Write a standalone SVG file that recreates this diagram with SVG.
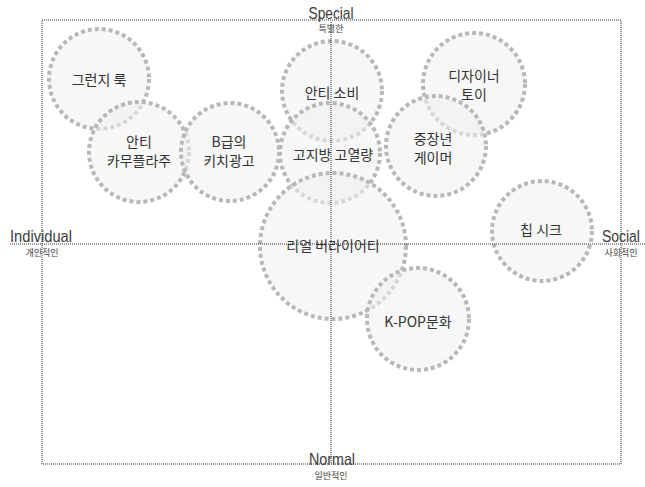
<svg xmlns="http://www.w3.org/2000/svg" width="645" height="487" viewBox="0 0 645 487">
<style>
.c{fill:#f0f0f0;fill-opacity:0.55;stroke:#b8b8b8;stroke-width:4;stroke-dasharray:4 3}
.t{font-family:"Noto Sans CJK KR","Noto Sans",sans-serif;font-size:14px;fill:#333;text-anchor:middle}
.ax{fill:none;stroke:#333;stroke-width:1;stroke-dasharray:1 1}
.en{font-family:"Liberation Sans","Noto Sans",sans-serif;font-size:17px;fill:#3a3a3a}
.ko{font-family:"Noto Sans CJK KR",sans-serif;font-size:9px;fill:#444}
</style>
<rect width="645" height="487" fill="#fff"/>
<g id="nodes">
<g id="n-grunge"><circle class="c" cx="99" cy="79" r="50"/><text class="t" x="99" y="85">그런지 룩</text></g>
<g id="n-camo"><circle class="c" cx="139" cy="152" r="50"/><text class="t" x="139" y="147">안티</text><text class="t" x="139" y="166">카무플라주</text></g>
<g id="n-kitsch"><circle class="c" cx="230" cy="152" r="49"/><text class="t" x="229" y="147">B급의</text><text class="t" x="229" y="166">키치광고</text></g>
<g id="n-anticons"><circle class="c" cx="332" cy="91" r="50"/><text class="t" x="332" y="98">안티 소비</text></g>
<g id="n-fat"><circle class="c" cx="330" cy="153" r="50"/><text class="t" x="333" y="160">고지방 고열량</text></g>
<g id="n-toy"><circle class="c" cx="474" cy="84" r="51"/><text class="t" x="474" y="81">디자이너</text><text class="t" x="474" y="100">토이</text></g>
<g id="n-gamer"><circle class="c" cx="436" cy="146" r="50"/><text class="t" x="433" y="144">중장년</text><text class="t" x="433" y="163">게이머</text></g>
<g id="n-chic"><circle class="c" cx="542" cy="231" r="50"/><text class="t" x="541" y="235">칩 시크</text></g>
<g id="n-real"><circle class="c" cx="333" cy="246" r="73"/><text class="t" x="333" y="251">리얼 버라이어티</text></g>
<g id="n-kpop"><circle class="c" cx="418" cy="319" r="51"/><text class="t" x="418" y="327">K-POP문화</text></g>
</g>
<g id="connectors">
<rect class="ax" x="42" y="20" width="579" height="444"/>
<line class="ax" x1="10" y1="244" x2="645" y2="244"/>
<line class="ax" x1="331" y1="22" x2="331" y2="464"/>
</g>
<g id="labels">
<text class="en" x="331" y="19" text-anchor="middle" textLength="45" lengthAdjust="spacingAndGlyphs">Special</text>
<text class="ko" x="331" y="32" text-anchor="middle">특별한</text>
<text class="en" x="10" y="242" textLength="62" lengthAdjust="spacingAndGlyphs">Individual</text>
<text class="ko" x="42" y="256" text-anchor="middle">개인적인</text>
<text class="en" transform="translate(602,242) scale(0.82,1)" x="0" y="0">Social</text>
<text class="ko" x="621" y="256" text-anchor="middle">사회적인</text>
<text class="en" x="332" y="465" text-anchor="middle" textLength="46" lengthAdjust="spacingAndGlyphs">Normal</text>
<text class="ko" x="331" y="479" text-anchor="middle">일반적인</text>
</g>
</svg>
